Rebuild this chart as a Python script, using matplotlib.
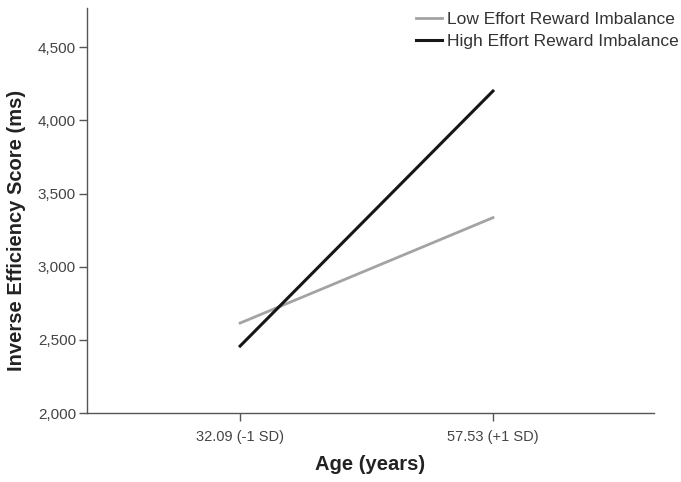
import matplotlib
matplotlib.use("Agg")
from matplotlib import pyplot as plt
from matplotlib.ticker import FuncFormatter

plt.rcParams['font.family'] = ['Liberation Sans', 'DejaVu Sans']

# data
age_labels = ["32.09 (-1 SD)", "57.53 (+1 SD)"]
low_eri = [2615, 3335]
high_eri = [2458, 4200]
y_ticks = [2000, 2500, 3000, 3500, 4000, 4500]

fig = plt.figure(figsize=(6.81, 4.82), dpi=100)
ax = fig.add_axes([0.128, 0.143, 0.832, 0.84])

x = list(range(len(age_labels)))
ax.plot(x, low_eri, color="#a3a3a3", lw=2, label="Low Effort Reward Imbalance")
ax.plot(x, high_eri, color="#161616", lw=2.2, label="High Effort Reward Imbalance")

ax.set_xlim(-0.605, 1.636)
ax.set_ylim(2000, 4766)
ax.set_xticks(x)
ax.set_xticklabels(age_labels)
ax.set_yticks(y_ticks)
ax.yaxis.set_major_formatter(FuncFormatter(lambda v, p: "{:,.0f}".format(v)))

for s in ["top", "right"]:
    ax.spines[s].set_visible(False)
for s in ["left", "bottom"]:
    ax.spines[s].set_color("#555555")
    ax.spines[s].set_linewidth(1)
ax.tick_params(axis="both", colors="#555555", labelcolor="#444444", length=6, width=1)
ax.tick_params(axis="x", labelsize=10.5, pad=6)
ax.tick_params(axis="y", labelsize=11, pad=2)

ax.set_xlabel("Age (years)", fontsize=14.5, fontweight="bold", color="#222222", labelpad=8)
ax.set_ylabel("Inverse Efficiency Score (ms)", fontsize=14.5, fontweight="bold", color="#222222")
ax.yaxis.set_label_coords(-0.108, 0.45)

leg = ax.legend(loc="upper right", bbox_to_anchor=(1.072, 1.03), frameon=False, fontsize=12.5,
                handlelength=1.5, handletextpad=0.3, labelspacing=0.42)
for t in leg.get_texts():
    t.set_color("#333333")

fig.savefig("out.png", dpi=100)
